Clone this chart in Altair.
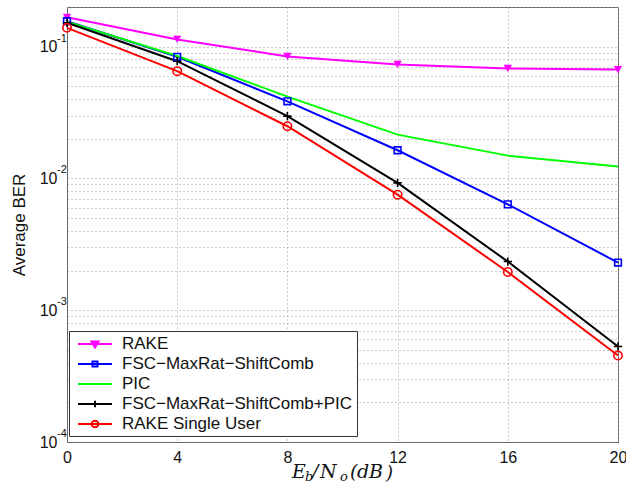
import altair as alt
import pandas as pd

# ---------------- data ----------------
snr_db = [0, 4, 8, 12, 16, 20]
series_names = [
    "RAKE",
    "FSC\u2212MaxRat\u2212ShiftComb",
    "PIC",
    "FSC\u2212MaxRat\u2212ShiftComb+PIC",
    "RAKE Single User",
]
ber_rake = [0.167, 0.1135, 0.0843, 0.0733, 0.0683, 0.0671]
ber_fsc = [0.156, 0.0838, 0.0385, 0.01637, 0.00636, 0.0023]
ber_pic = [0.155, 0.085, 0.0418, 0.0215, 0.0149, 0.0123]
ber_fsc_pic = [0.152, 0.0776, 0.0297, 0.00925, 0.00234, 0.00053]
ber_single = [0.139, 0.0652, 0.0249, 0.00753, 0.00195, 0.000453]
all_series = [ber_rake, ber_fsc, ber_pic, ber_fsc_pic, ber_single]

x_ticks = [0, 4, 8, 12, 16, 20]
y_ticks = [k * 10.0 ** d for d in range(-4, 0) for k in range(1, 10) if k * 10.0 ** d <= 0.2 + 1e-12]
decade_values = [1e-4, 1e-3, 1e-2, 1e-1]
decade_exponents = ["-4", "-3", "-2", "-1"]

# ---------------- styles ----------------
colors = ["#ff00ff", "#0000ff", "#00ff00", "#000000", "#ff0000"]
plot_shapes = ["triangle-down", "square", None, "M-1,0H1M0,-1V1", "circle"]
plot_sizes = [70, 45, 0, 70, 70]
plot_filled = [True, False, False, False, False]

legend_paths = [
    "M-2.125,0H2.125M-0.45,-0.3L0.45,-0.3L0,0.45Z",
    "M-2.125,0H2.125M-0.32,-0.32H0.32V0.32H-0.32Z",
    "M-2.125,0H2.125",
    "M-2.125,0H2.125M0,-0.4V0.4",
    "M-2.125,0H2.125M-0.42,0A0.42,0.42,0,1,1,0.42,0A0.42,0.42,0,1,1,-0.42,0",
]
legend_fills = ["#ff00ff", "transparent", "transparent", "transparent", "transparent"]

rows = []
for name, vals in zip(series_names, all_series):
    for x, v in zip(snr_db, vals):
        rows.append({"series": name, "snr": x, "ber": v})
df = pd.DataFrame(rows)

W, H = 551, 435
PL, PT = 67, 7

label_expr = (
    "abs(log(datum.value)/LN10 - round(log(datum.value)/LN10)) < 0.001 ? '10' : ''"
)

x_enc = alt.X(
    "snr:Q",
    scale=alt.Scale(domain=[0, 20], nice=False, zero=False),
    axis=alt.Axis(values=x_ticks, title=None, labelFlush=False, labelPadding=7, labelOverlap=False),
)
y_enc = alt.Y(
    "ber:Q",
    scale=alt.Scale(type="log", domain=[1e-4, 0.2], nice=False),
    axis=alt.Axis(
        values=y_ticks,
        labelExpr=label_expr,
        title="Average BER",
        labelFlush=False,
        labelOverlap=False,
        labelPadding=10,
        titlePadding=11,
        titleFontSize=17,
        titleFontWeight="normal",
        titleFont="Liberation Sans",
        titleColor="#111111",
    ),
)

base = alt.Chart(df)

leg = alt.Legend(
    title=None,
    orient="none",
    legendX=2,
    legendY=324,
    padding=4,
    strokeColor="#333333",
    fillColor="white",
    labelFont="Liberation Sans",
    labelFontSize=17,
    labelColor="#111111",
    labelLimit=0,
    symbolSize=256,
    symbolStrokeWidth=2,
    symbolOffset=13,
    labelOffset=18,
    rowPadding=3,
)

legend_layer = (
    base.transform_filter("false")
    .mark_point(filled=False, strokeWidth=2, opacity=1)
    .encode(
        x=x_enc,
        y=y_enc,
        color=alt.Color("series:N", scale=alt.Scale(domain=series_names, range=colors), legend=leg),
        shape=alt.Shape("series:N", scale=alt.Scale(domain=series_names, range=legend_paths), legend=leg),
        fill=alt.Fill("series:N", scale=alt.Scale(domain=series_names, range=legend_fills), legend=leg),
    )
)

layers = [legend_layer]
for name, c in zip(series_names, colors):
    layers.append(
        base.transform_filter(alt.datum.series == name)
        .mark_line(color=c, strokeWidth=2)
        .encode(x=x_enc, y=y_enc)
    )
for name, c, shp, sz, fl in zip(series_names, colors, plot_shapes, plot_sizes, plot_filled):
    if shp is None:
        continue
    layers.append(
        base.transform_filter(alt.datum.series == name)
        .mark_point(shape=shp, size=sz, filled=fl, color=c, strokeWidth=1.6, opacity=1)
        .encode(x=x_enc, y=y_enc)
    )

# exponents of the decade labels (10^-n), placed through the y scale
exp_df = pd.DataFrame({"ber": decade_values, "exp": decade_exponents})
layers.append(
    alt.Chart(exp_df)
    .mark_text(font="Liberation Sans", fontSize=11, align="left", baseline="middle", dy=-8, color="#111111")
    .encode(text="exp:N", y=alt.Y("ber:Q"), x=alt.value(-10))
)

# x-axis title pieces: E_b/N_o(dB)
t_text = ["E", "b", "/", "N", "o", "(", "d", "B", ")"]
t_left = [292, 305, 312, 320, 340, 350, 357, 369, 386]
t_size = [19, 13, 19, 19, 13, 19, 19, 19, 18]
t_base = [478, 481, 478, 478, 481, 478, 478, 478, 479]
for tx, xl, fs, yb in zip(t_text, t_left, t_size, t_base):
    layers.append(
        alt.Chart(pd.DataFrame({"t": [tx]}))
        .mark_text(
            font="DejaVu Serif",
            fontStyle="italic",
            fontSize=fs,
            align="left",
            baseline="alphabetic",
            color="#111111",
        )
        .encode(text="t:N", x=alt.value(xl - PL), y=alt.value(yb - PT))
    )

chart = (
    alt.layer(*layers)
    .properties(
        width=W,
        height=H,
        padding={"left": PL, "top": PT, "right": 8, "bottom": 46},
        autosize=alt.AutoSizeParams(type="none"),
        background="white",
    )
    .configure_view(stroke="#666666", strokeWidth=1)
    .configure_axis(
        labelFont="Liberation Sans",
        labelFontSize=16,
        labelColor="#111111",
        ticks=False,
        domainColor="#666666",
        gridColor="#9a9a9a",
        gridDash=[1, 3],
        gridOpacity=1,
        gridWidth=1,
    )
)

chart.save("out.html", embed_options={"renderer": "svg", "actions": False})
